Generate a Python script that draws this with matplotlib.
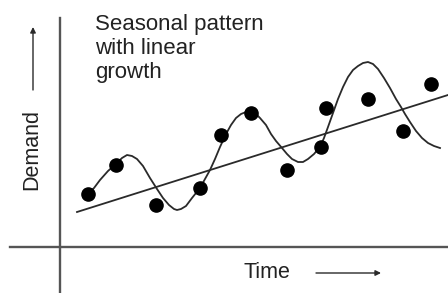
## Seasonal pattern with linear growth (schematic)
import matplotlib as mpl
mpl.use('Agg')
import matplotlib.pyplot as plt

obs_time = [88, 116, 156, 200, 221, 251, 287, 321, 326, 368, 403, 431]
obs_demand = [99, 128, 88, 105, 158, 180, 123, 146, 185, 194, 162, 209]

# linear trend line end points
trend_time = [77, 448]
trend_demand = [81, 198]

# seasonal curve
curve_time = [88, 94, 100, 108, 117, 122, 127, 132, 137, 143, 150, 157, 163,
              169, 174, 177, 181, 186, 192, 200, 205, 210, 215, 220, 226, 231,
              236, 241, 246, 250, 255, 260, 266, 271, 276, 282, 287, 292, 298,
              303, 308, 314, 320, 324, 328, 333, 338, 343, 348, 353, 358, 363,
              368, 373, 378, 384, 390, 396, 401, 405, 410, 416, 422, 428, 434,
              440]
curve_demand = [99, 105, 113, 122, 130, 135, 138, 137, 134, 127, 115, 104, 95,
                88, 84, 83, 84, 87, 95, 105, 114, 123, 134, 146, 159, 168,
                175, 179, 181, 182, 180, 175, 168, 159, 152, 145, 139, 134, 131,
                131, 134, 139, 146, 155, 166, 180, 194, 206, 216, 223, 227, 230,
                231, 229, 224, 215, 205, 194, 186, 179, 171, 162, 155, 150, 147,
                145]

fig = plt.figure(figsize=(4.48, 2.93), dpi=100)
ax = fig.add_axes([0, 0, 1, 1])
ax.set_xlim(0, 448)
ax.set_ylim(0, 293)
ax.axis('off')

ink = '#2a2a2a'

# axes of the sketch
ax.plot([60, 60], [0, 275], color='#555555', lw=1.7)
ax.plot([10, 448], [46, 46], color='#555555', lw=1.7)

ax.plot(trend_time, trend_demand, color=ink, lw=1.3)
ax.plot(curve_time, curve_demand, color=ink, lw=1.3, solid_joinstyle='round')
ax.plot(obs_time, obs_demand, 'o', color='black', ms=9.5, zorder=5)

# labels with arrows
ax.text(32, 144, 'Demand', rotation=90, ha='center', va='center',
        fontsize=15.5, color='#222222', family='Liberation Sans')
ax.annotate('', xy=(33, 266), xytext=(33, 203),
            arrowprops=dict(arrowstyle='-|>', color=ink, lw=1.0,
                            mutation_scale=8, shrinkA=0, shrinkB=0))
ax.text(244, 21, 'Time', ha='left', va='center',
        fontsize=15.5, color='#222222', family='Liberation Sans')
ax.annotate('', xy=(381, 20), xytext=(316, 20),
            arrowprops=dict(arrowstyle='-|>', color=ink, lw=1.0,
                            mutation_scale=8, shrinkA=0, shrinkB=0))

ax.text(95, 279, 'Seasonal pattern\nwith linear\ngrowth', ha='left', va='top',
        fontsize=16, color='#222222', family='Liberation Sans', linespacing=1.2)

plt.savefig('out.png', dpi=100)
